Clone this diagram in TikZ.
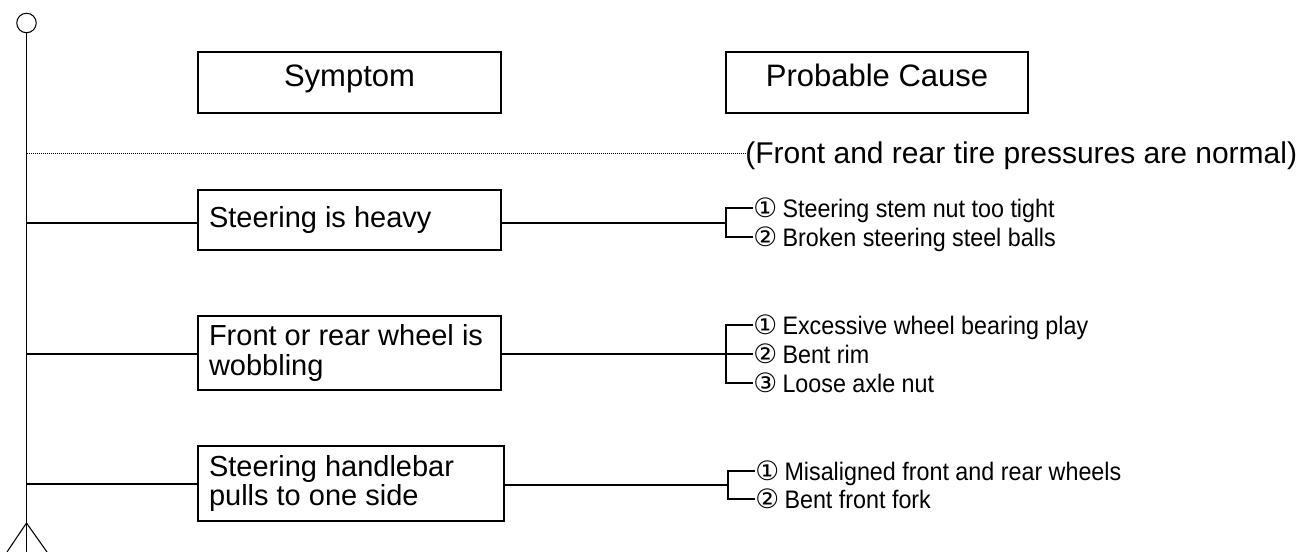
\documentclass[tikz,border=0pt]{standalone}
\usepackage{fontspec}
\setmainfont{Liberation Sans}
\newfontfamily\dvfont{DejaVu Sans}
\newcommand{\itm}[2]{{\dvfont\fontsize{20}{20}\selectfont #1}\hspace{4pt}\scalebox{0.92}[1]{#2}}
\begin{document}
\begin{tikzpicture}[x=0.75pt,y=-0.75pt,
  hdrbox/.style={draw, line width=1.1pt, minimum height=61*0.75pt, inner sep=0pt,
    font=\fontsize{23.25}{23.25}\selectfont, text height=16.5pt, text depth=9.75pt},
  symbox/.style={draw, line width=1.1pt, inner xsep=11*0.75pt, inner ysep=0pt, align=flush left, anchor=center,
    font=\fontsize{21.75}{21.75}\selectfont},
  item/.style={anchor=west, inner sep=0pt, font=\fontsize{19}{19}\selectfont, text height=13.6pt, text depth=0pt},
  notetext/.style={anchor=west, inner sep=0pt, font=\fontsize{22.5}{22.5}\selectfont, text height=16.1pt, text depth=0pt},
  conn/.style={line width=0.8pt},
  dotline/.style={line width=0.7pt, dash pattern=on 0.75pt off 0.75pt}]
\useasboundingbox (0,0) rectangle (1308,552);
% spine
\node[draw, circle, line width=0.8pt, minimum size=19.5*0.75pt, inner sep=0pt] (top) at (26.5,23) {};
\coordinate (bot) at (26.5,552);
\draw[conn] (top.south) -- (bot);
\coordinate (apex) at (26.5,523);
\coordinate (fl) at (7,552);
\coordinate (fr) at (47,552);
\draw[conn] (fl) -- (apex) -- (fr);
% headers
\node[hdrbox, minimum width=303*0.75pt] (hs) at (349.5,82.5) {Symptom};
\node[hdrbox, minimum width=302*0.75pt] (hc) at (877,82.5) {Probable Cause};
% dotted note
\coordinate (d0) at (26.5,153);
\node[notetext] (note) at (745,153) {(Front and rear tire pressures are normal)};
\draw[dotline] (d0) -- (note.west);
% row 1
\node[symbox, text width=281*0.75pt, minimum height=60*0.75pt] (s1) at (349.5,220) {Steering is heavy};
\coordinate (v1) at (26.5,223);
\coordinate (br1) at (726,223);
\draw[conn] (v1) -- (v1 -| s1.west);
\draw[conn] (br1 -| s1.east) -- (br1);
\node[item] (c11) at (753,208) {\itm{①}{Steering stem nut too tight}};
\node[item] (c12) at (753,237) {\itm{②}{Broken steering steel balls}};
\draw[conn] (c11.west) -| (br1) |- (c12.west);
% row 2
\node[symbox, text width=281*0.75pt, minimum height=74*0.75pt] (s2) at (349.5,353) {Front or rear wheel is\\wobbling};
\coordinate (v2) at (26.5,354);
\coordinate (br2) at (726,354);
\draw[conn] (v2) -- (v2 -| s2.west);
\draw[conn] (br2 -| s2.east) -- (br2);
\node[item] (c21) at (753,325) {\itm{①}{Excessive wheel bearing play}};
\node[item] (c22) at (753,354) {\itm{②}{Bent rim}};
\node[item] (c23) at (753,383) {\itm{③}{Loose axle nut}};
\draw[conn] (c21.west) -| (br2) |- (c23.west);
\draw[conn] (br2) -- (c22.west);
% row 3
\node[symbox, text width=284*0.75pt, minimum height=75*0.75pt] (s3) at (351,483.5) {Steering handlebar\\pulls to one side};
\coordinate (v3) at (26.5,484);
\coordinate (br3) at (728,485);
\draw[conn] (v3) -- (v3 -| s3.west);
\draw[conn] (br3 -| s3.east) -- (br3);
\node[item] (c31) at (755,471) {\itm{①}{Misaligned front and rear wheels}};
\node[item] (c32) at (755,499) {\itm{②}{Bent front fork}};
\draw[conn] (c31.west) -| (br3) |- (c32.west);
\end{tikzpicture}
\end{document}
